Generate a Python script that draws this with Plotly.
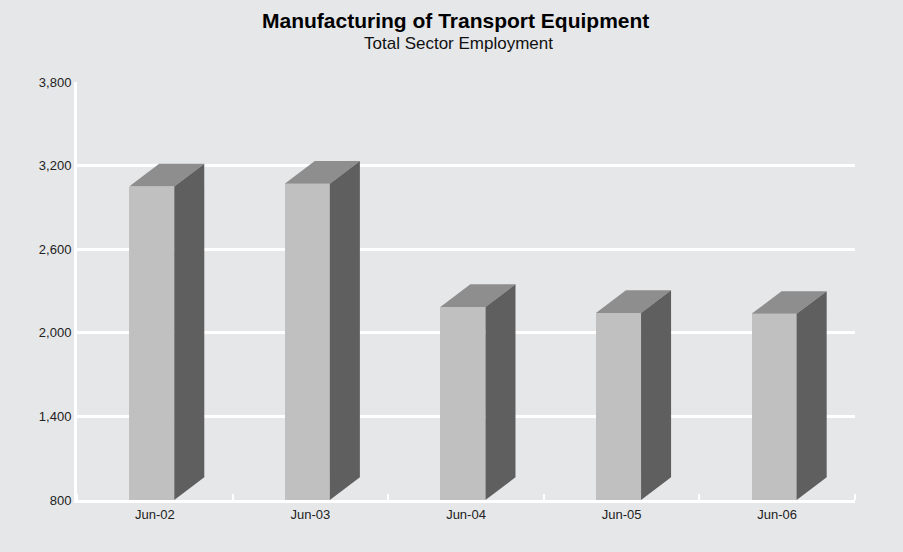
import plotly.graph_objects as go

# Total sector employment, June of each year
categories = ["Jun-02", "Jun-03", "Jun-04", "Jun-05", "Jun-06"]
employment = [3050, 3070, 2185, 2143, 2136]
y_ticks = [800, 1400, 2000, 2600, 3200, 3800]
y_tick_labels = ["800", "1,400", "2,000", "2,600", "3,200", "3,800"]

Y_MIN, Y_MAX = 800, 3800
BAR_W = 0.29      # front face width, in category units
DEPTH_X = 0.193   # 3D depth offset along x (category units)
DEPTH_Y = 163     # 3D depth offset along y (value units)
SHIFT = -0.02     # small horizontal shift of the front face

FRONT = "#c0c0c0"
TOP = "#8e8e8e"
SIDE = "#5f5f5f"
BG = "#e6e7e9"

fig = go.Figure()

xs = [i + SHIFT for i in range(len(categories))]

# front faces
fig.add_trace(go.Bar(
    x=xs, y=[v - Y_MIN for v in employment], base=Y_MIN,
    width=BAR_W, marker=dict(color=FRONT, line=dict(width=0)),
    showlegend=False, hoverinfo="skip",
))

# top and side faces of each column
for x, v in zip(xs, employment):
    x0, x1 = x - BAR_W / 2, x + BAR_W / 2
    fig.add_trace(go.Scatter(
        x=[x0, x1, x1 + DEPTH_X, x0 + DEPTH_X, x0],
        y=[v, v, v + DEPTH_Y, v + DEPTH_Y, v],
        fill="toself", fillcolor=TOP, mode="lines",
        line=dict(width=0, color=TOP), showlegend=False, hoverinfo="skip",
    ))
    fig.add_trace(go.Scatter(
        x=[x1, x1 + DEPTH_X, x1 + DEPTH_X, x1, x1],
        y=[Y_MIN, Y_MIN + DEPTH_Y, v + DEPTH_Y, v, Y_MIN],
        fill="toself", fillcolor=SIDE, mode="lines",
        line=dict(width=0, color=SIDE), showlegend=False, hoverinfo="skip",
    ))

font_family = "Liberation Sans, Arial, sans-serif"
TEXT = "#222222"

fig.update_layout(
    width=903, height=552,
    paper_bgcolor=BG, plot_bgcolor=BG,
    margin=dict(l=77, r=48, t=82, b=52),
    font=dict(family=font_family, color=TEXT, size=13),
    xaxis=dict(
        range=[-0.5, 4.5], tickmode="array",
        tickvals=list(range(len(categories))), ticktext=categories,
        showgrid=False, zeroline=False, ticks="",
        showline=True, linecolor="white", linewidth=3,
        minor=dict(tick0=0.5, dtick=1, ticks="inside", ticklen=6,
                   tickcolor="white", tickwidth=2, showgrid=False),
        tickfont=dict(size=13, color=TEXT),
        fixedrange=True,
    ),
    yaxis=dict(
        range=[Y_MIN, Y_MAX], tickmode="array",
        tickvals=y_ticks, ticktext=y_tick_labels,
        showgrid=True, gridcolor="white", gridwidth=2.5,
        zeroline=False, showline=True, linecolor="white", linewidth=3,
        ticks="", ticklabelstandoff=0,
        tickfont=dict(size=13, color=TEXT),
        fixedrange=True,
    ),
    bargap=0,
    annotations=[
        dict(text="<b>Manufacturing of Transport Equipment</b>",
             xref="paper", yref="paper", x=0.486, y=1.148,
             xanchor="center", yanchor="middle", showarrow=False,
             font=dict(size=21, color="#000000", family=font_family)),
        dict(text="Total Sector Employment",
             xref="paper", yref="paper", x=0.49, y=1.091,
             xanchor="center", yanchor="middle", showarrow=False,
             font=dict(size=17, color="#111111", family=font_family)),
    ],
)

fig.write_html("out.html")
